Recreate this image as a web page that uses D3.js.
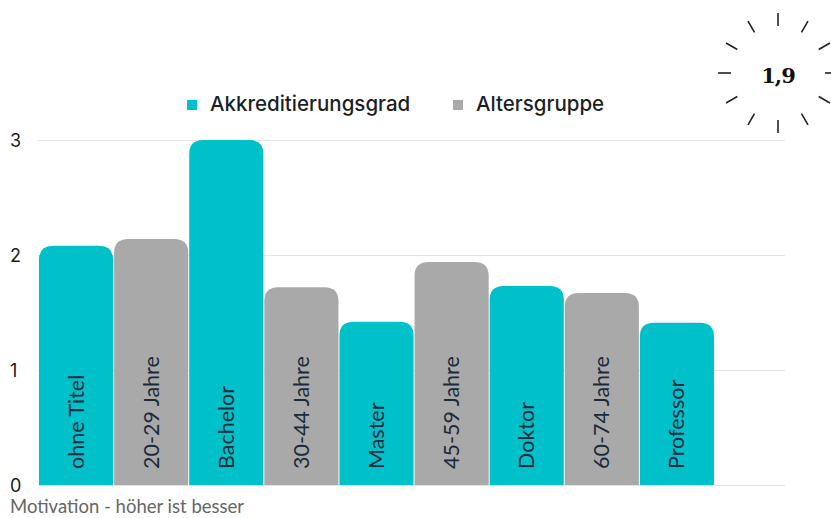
<!DOCTYPE html>
<html>
<head>
<meta charset="utf-8">
<script src="https://cdn.jsdelivr.net/npm/d3@7"></script>
<style>
  body { margin: 0; background: #fff; }
</style>
</head>
<body>
<div id="chart-area"></div>
<script>
// data
var categories = ["ohne Titel", "20-29 Jahre", "Bachelor", "30-44 Jahre", "Master",
                  "45-59 Jahre", "Doktor", "60-74 Jahre", "Professor"];
var values = [2.08, 2.14, 3.0, 1.72, 1.42, 1.94, 1.73, 1.67, 1.41];
var groups = ["Akkreditierungsgrad", "Altersgruppe", "Akkreditierungsgrad", "Altersgruppe",
              "Akkreditierungsgrad", "Altersgruppe", "Akkreditierungsgrad", "Altersgruppe",
              "Akkreditierungsgrad"];
var seriesNames = ["Akkreditierungsgrad", "Altersgruppe"];
var yTicks = [0, 1, 2, 3];
var badgeValue = "1,9";
var caption = "Motivation - höher ist besser";

var width = 831;
var height = 518;

var svg = d3.select("#chart-area").append("svg")
    .attr("width", width)
    .attr("height", height);

var x = d3.scaleBand().domain(categories).range([39, 714]).paddingInner(0.013).paddingOuter(0);
var y = d3.scaleLinear().domain([0, 3]).range([485, 140]);
var color = d3.scaleOrdinal().domain(seriesNames).range(["#00c0c9", "#a9a9a9"]);

// gridlines
svg.append("g").selectAll("line")
    .data(yTicks)
    .enter().append("line")
    .attr("x1", 38)
    .attr("x2", 785)
    .attr("y1", (d) => y(d) + 0.5)
    .attr("y2", (d) => y(d) + 0.5)
    .attr("stroke", "#e3e3e3")
    .attr("stroke-width", 1);

// y labels
svg.append("g").selectAll("text")
    .data(yTicks)
    .enter().append("text")
    .attr("x", 10)
    .attr("y", (d) => y(d) + 1)
    .attr("dy", "0.35em")
    .style("font-family", "Inter, 'Open Sans', sans-serif")
    .style("font-size", "18px")
    .style("fill", "#1c1c1c")
    .text((d) => d);

// bars with rounded top
function barPath(x0, y0, w, h, r) {
    r = Math.min(r, h, w / 2);
    return "M" + x0 + "," + (y0 + h) +
        "V" + (y0 + r) +
        "Q" + x0 + "," + y0 + " " + (x0 + r) + "," + y0 +
        "H" + (x0 + w - r) +
        "Q" + (x0 + w) + "," + y0 + " " + (x0 + w) + "," + (y0 + r) +
        "V" + (y0 + h) + "Z";
}

svg.append("g").selectAll("path")
    .data(categories)
    .enter().append("path")
    .attr("d", (d, i) => barPath(x(d), y(values[i]), x.bandwidth(), y(0) - y(values[i]), 14))
    .attr("fill", (d, i) => color(groups[i]));

// labels inside bars
svg.append("g").selectAll("text")
    .data(categories)
    .enter().append("text")
    .attr("transform", (d) => "translate(" + (x(d) + x.bandwidth() / 2) + "," + 469 + ") rotate(-90)")
    .attr("dy", "0.35em")
    .style("font-family", "Lato, 'Open Sans', sans-serif")
    .style("font-size", "21.5px")
    .style("fill", "#1b2b3b")
    .text((d) => d);

// legend
var legend = svg.append("g");
var legendX = [187, 453];
seriesNames.forEach((s, i) => {
    legend.append("rect")
        .attr("x", legendX[i])
        .attr("y", 100)
        .attr("width", 10)
        .attr("height", 10)
        .attr("fill", color(s));
    legend.append("text")
        .attr("x", legendX[i] + 23)
        .attr("y", 104)
        .attr("dy", "0.35em")
        .style("font-family", "Inter, 'Open Sans', sans-serif")
        .style("font-size", "20.5px")
        .style("font-weight", "500")
        .style("fill", "#1c1f26")
        .text(s);
});

// caption
svg.append("text")
    .attr("x", 10)
    .attr("y", 513)
    .style("font-family", "Lato, 'Open Sans', sans-serif")
    .style("font-size", "18.5px")
    .style("fill", "#666")
    .text(caption);

// badge
var badge = svg.append("g").attr("transform", "translate(778, 73)");
badge.selectAll("line")
    .data(d3.range(12))
    .enter().append("line")
    .attr("x1", (d) => 47 * Math.sin(d * Math.PI / 6))
    .attr("y1", (d) => -47 * Math.cos(d * Math.PI / 6))
    .attr("x2", (d) => 60 * Math.sin(d * Math.PI / 6))
    .attr("y2", (d) => -60 * Math.cos(d * Math.PI / 6))
    .attr("stroke", "#222")
    .attr("stroke-width", 1.6);
badge.append("text")
    .attr("x", 0)
    .attr("y", 3)
    .attr("text-anchor", "middle")
    .attr("dy", "0.35em")
    .style("font-family", "'DejaVu Serif', serif")
    .style("font-size", "21px")
    .style("font-weight", "bold")
    .style("letter-spacing", "-1px")
    .style("fill", "#111")
    .text(badgeValue);
</script>
</body>
</html>
